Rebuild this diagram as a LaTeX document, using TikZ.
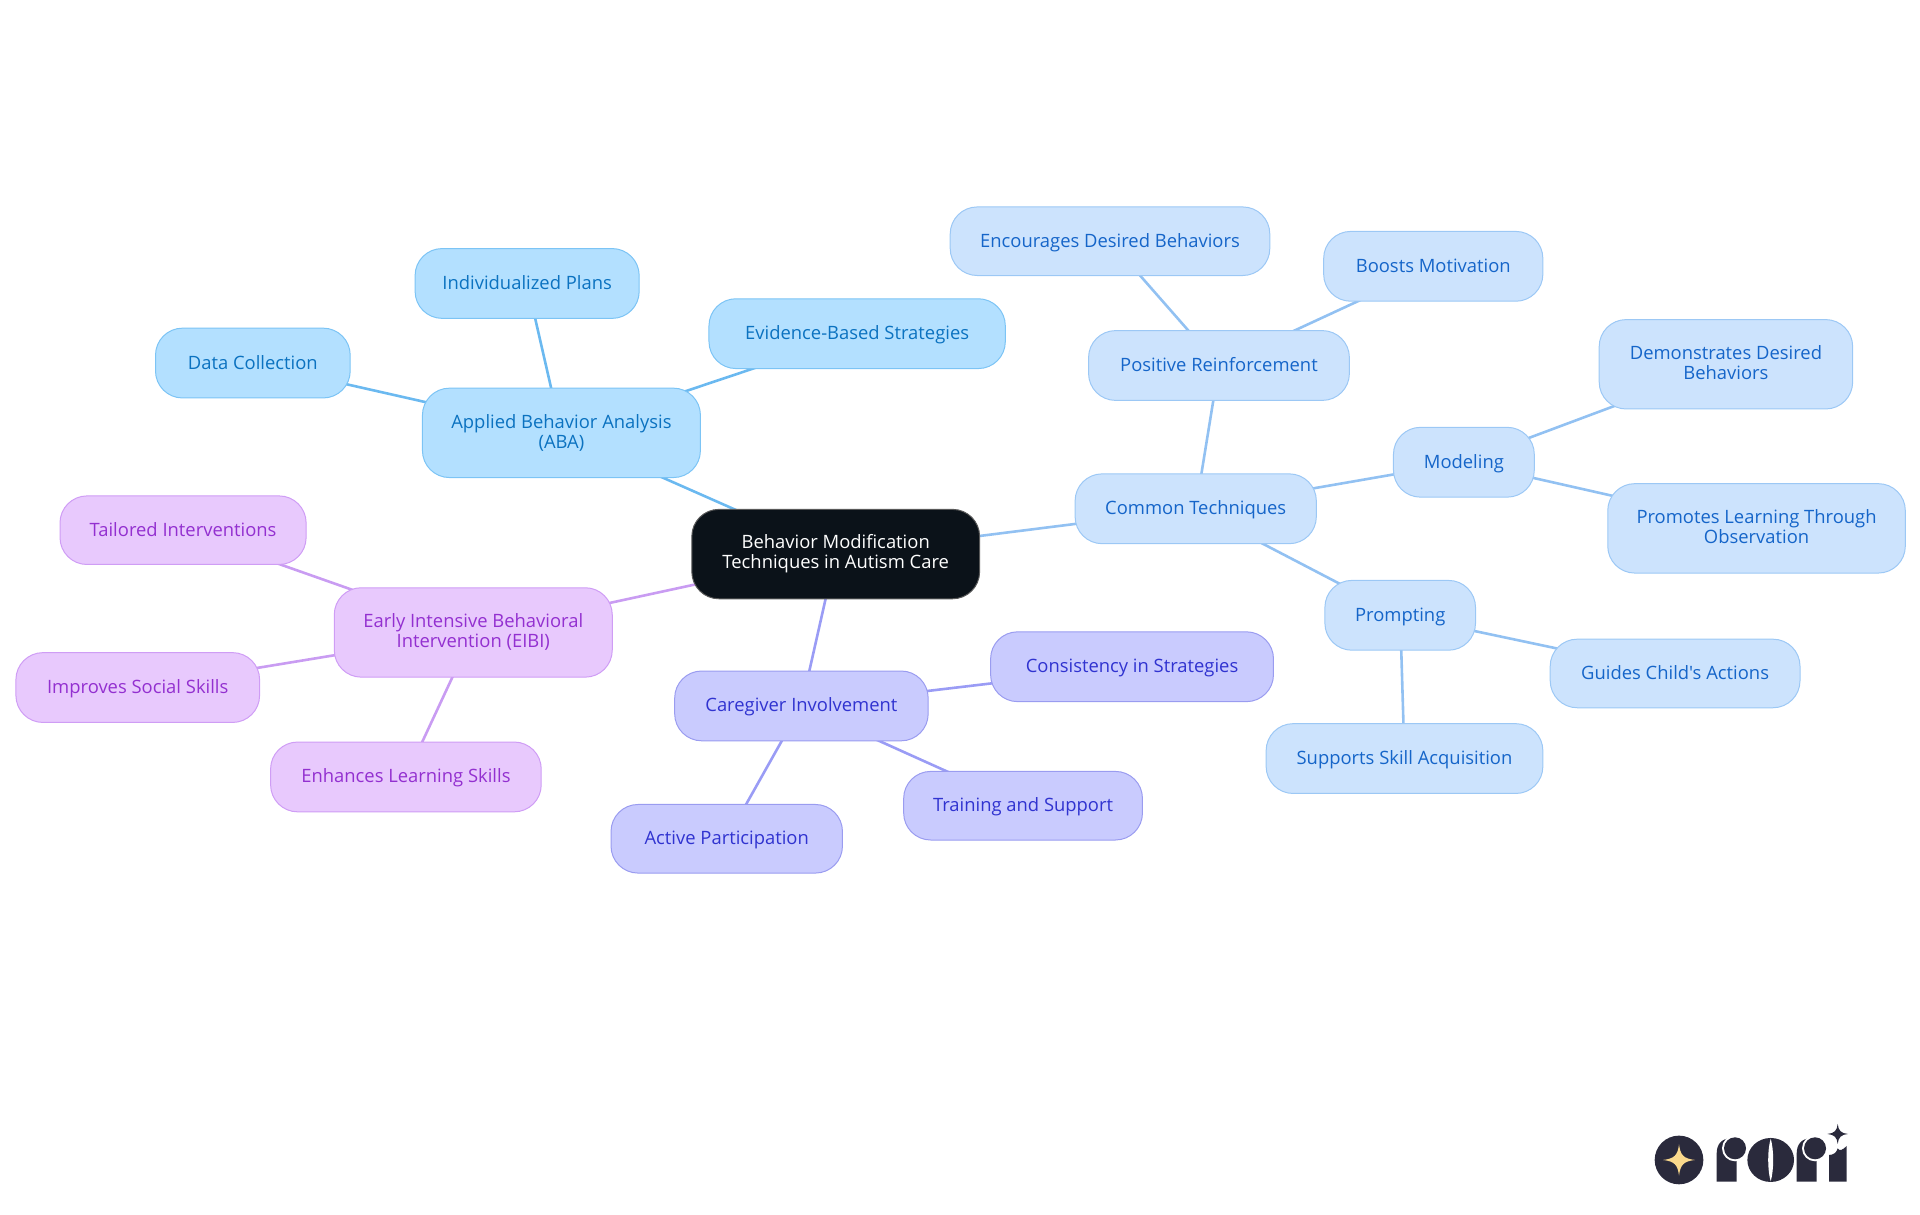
\documentclass[tikz,border=0pt]{standalone}
\usepackage{fontspec}
\newfontfamily\labelfont{Open Sans}
\usetikzlibrary{backgrounds}
\definecolor{abaF}{HTML}{B3E0FF}\definecolor{abaS}{HTML}{7CC4F5}\definecolor{abaT}{HTML}{0B72C0}\definecolor{abaE}{HTML}{6BB9F0}
\definecolor{comF}{HTML}{CCE3FD}\definecolor{comS}{HTML}{9CC8F5}\definecolor{comT}{HTML}{1565C9}\definecolor{comE}{HTML}{92C1F2}
\definecolor{carF}{HTML}{C9CBFE}\definecolor{carS}{HTML}{9A9CF0}\definecolor{carT}{HTML}{3033D0}\definecolor{carE}{HTML}{9A9CF5}
\definecolor{eibF}{HTML}{E8C9FD}\definecolor{eibS}{HTML}{CF9DF5}\definecolor{eibT}{HTML}{9330D0}\definecolor{eibE}{HTML}{C99CF2}
\definecolor{rootF}{HTML}{0B1219}\definecolor{logoD}{HTML}{2A2A3C}\definecolor{logoY}{HTML}{FAD98C}
\newcommand{\labelstrut}{\rule[-1.6pt]{0pt}{9.6pt}}
\newcommand{\rootstrut}{\rule{0pt}{12pt}}
\tikzset{
 x=0.6122pt,y=-0.6122pt,
 pill/.style={rounded corners=13.5pt,line width=0.5pt,align=center,inner sep=0pt,font=\labelfont\fontsize{9.2}{10}\selectfont,
   execute at begin node=\labelstrut,execute at end node=\labelstrut},
 aba/.style={pill,fill=abaF,draw=abaS,text=abaT},
 com/.style={pill,fill=comF,draw=comS,text=comT},
 car/.style={pill,fill=carF,draw=carS,text=carT},
 eib/.style={pill,fill=eibF,draw=eibS,text=eibT},
 rootn/.style={rounded corners=13.5pt,line width=0.5pt,align=center,inner sep=0pt,font=\labelfont\fontsize{9.2}{10}\selectfont,
   execute at begin node=\rootstrut,fill=rootF,draw=gray!70!black,text=white},
 edge/.style={line width=1.3pt},
 sz/.style 2 args={minimum width=#1*0.6122pt,minimum height=#2*0.6122pt},
}
\begin{document}
\begin{tikzpicture}
\useasboundingbox (0,0) rectangle (1568,992.25);
\node[rootn,sz={235}{73}] (root) at (682.5,452.5) {Behavior Modification\\Techniques in Autism Care};
\node[aba,sz={227}{73}] (aba) at (458.5,353.5) {Applied Behavior Analysis\\(ABA)};
\node[aba,sz={183}{57}] (indiv) at (430.5,231.5) {Individualized Plans};
\node[aba,sz={159}{57}] (data) at (206.5,296.5) {Data Collection};
\node[aba,sz={242}{57}] (evid) at (700,272.5) {Evidence-Based Strategies};
\node[com,sz={197}{57}] (common) at (976.5,415.5) {Common Techniques};
\node[com,sz={213}{57}] (pos) at (995.5,298.5) {Positive Reinforcement};
\node[com,sz={261}{56}] (enc) at (906.5,197) {Encourages Desired Behaviors};
\node[com,sz={179}{57}] (boost) at (1170.5,217.5) {Boosts Motivation};
\node[com,sz={115}{57}] (model) at (1195.5,377.5) {Modeling};
\node[com,sz={207}{73}] (demo) at (1409.5,297.5) {Demonstrates Desired\\Behaviors};
\node[com,sz={243}{73}] (prom) at (1434.5,431.5) {Promotes Learning Through\\Observation};
\node[com,sz={123}{57}] (prompt) at (1143.5,502.5) {Prompting};
\node[com,sz={204}{56}] (guide) at (1368,550) {Guides Child's Actions};
\node[com,sz={226}{57}] (supp) at (1147,619.5) {Supports Skill Acquisition};
\node[eib,sz={227}{73}] (eibi) at (386.5,516.5) {Early Intensive Behavioral\\Intervention (EIBI)};
\node[eib,sz={201}{56}] (tail) at (149.5,433) {Tailored Interventions};
\node[eib,sz={199}{57}] (impr) at (112.5,561.5) {Improves Social Skills};
\node[eib,sz={221}{57}] (enh) at (331.5,634.5) {Enhances Learning Skills};
\node[car,sz={207}{57}] (care) at (654.5,576.5) {Caregiver Involvement};
\node[car,sz={231}{57}] (cons) at (924.5,544.5) {Consistency in Strategies};
\node[car,sz={195}{56}] (train) at (835.5,658) {Training and Support};
\node[car,sz={189}{56}] (act) at (593.5,685) {Active Participation};
\begin{scope}[on background layer]
\draw[edge,abaE] (root.center)--(aba.center) (aba.center)--(indiv.center) (aba.center)--(data.center) (aba.center)--(evid.center);
\draw[edge,comE] (root.center)--(common.center) (common.center)--(pos.center) (pos.center)--(enc.center) (pos.center)--(boost.center)
 (common.center)--(model.center) (model.center)--(demo.center) (model.center)--(prom.center)
 (common.center)--(prompt.center) (prompt.center)--(guide.center) (prompt.center)--(supp.center);
\draw[edge,eibE] (root.center)--(eibi.center) (eibi.center)--(tail.center) (eibi.center)--(impr.center) (eibi.center)--(enh.center);
\draw[edge,carE] (root.center)--(care.center) (care.center)--(cons.center) (care.center)--(train.center) (care.center)--(act.center);
\end{scope}
% logo, drawn in the 3x zoom pixel grid
\begin{scope}[shift={(1323,898.3)},x=0.16667pt,y=-0.16667pt]
\fill[logoD] (177,180) circle (73);
\fill[logoY] (177,133) .. controls (181,165) and (190,176) .. (225,180) .. controls (190,184) and (181,195) .. (177,227) .. controls (173,195) and (164,184) .. (129,180) .. controls (164,176) and (173,165) .. (177,133) -- cycle;
\fill[logoD] (290,245) -- (290,160) .. controls (290,132) and (306,115) .. (332,115) -- (350,150) -- (350,245) -- cycle;
\fill[white] (345,145) circle (39);
\fill[logoD] (345,145) circle (33);
\fill[logoD] (452,180) ellipse (70 and 66);
\fill[white] (452,116) .. controls (442,150) and (442,210) .. (452,244) .. controls (462,210) and (462,150) .. (452,116) -- cycle;
\begin{scope}[xshift=40pt]
\fill[logoD] (290,245) -- (290,160) .. controls (290,132) and (306,115) .. (332,115) -- (350,150) -- (350,245) -- cycle;
\fill[white] (345,145) circle (39);
\fill[logoD] (345,145) circle (33);
\end{scope}
\fill[logoD] (627,245) -- (627,165) .. controls (640,165) and (650,158) .. (653,145) .. controls (658,155) and (668,150) .. (680,138) -- (680,245) -- cycle;
\fill[logoD] (653,72) .. controls (655,92) and (663,100) .. (684,102) .. controls (663,104) and (655,112) .. (653,132) .. controls (651,112) and (643,104) .. (622,102) .. controls (643,100) and (651,92) .. (653,72) -- cycle;
\end{scope}
\end{tikzpicture}
\end{document}
